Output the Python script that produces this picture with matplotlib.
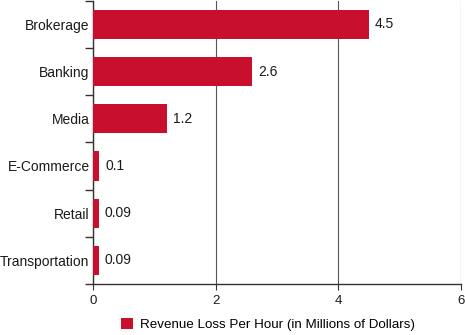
import matplotlib.pyplot as plt
import numpy as np
from matplotlib.patches import Patch

plt.rcParams['font.family'] = ['Liberation Sans', 'DejaVu Sans']

categories = ["Brokerage", "Banking", "Media", "E-Commerce", "Retail", "Transportation"]
values = [4.5, 2.6, 1.2, 0.1, 0.09, 0.09]
labels = ["4.5", "2.6", "1.2", "0.1", "0.09", "0.09"]
series_name = "Revenue Loss Per Hour (in Millions of Dollars)"
bar_color = "#C8102E"

fig = plt.figure(figsize=(4.65, 3.35), dpi=100)
ax = fig.add_axes([0.2, 0.152, 0.791, 0.846])

y = np.arange(len(categories))
ax.barh(y, values, height=0.62, color=bar_color, zorder=3)
for yi, v, lab in zip(y, values, labels):
    ax.text(v + 0.1, yi, lab, va="center", ha="left", fontsize=10, color="#1a1a1a", zorder=4)

ax.set_ylim(len(categories) - 0.5, -0.5)
ax.set_xlim(0, 6)
ax.set_xticks([0, 2, 4, 6])
ax.tick_params(axis="x", length=4, width=0.8, colors="#333333", labelsize=9.5, pad=4)
for t in ax.get_xticklabels():
    t.set_color("#1a1a1a")

# category labels centred on bars, tick marks on the boundaries
ax.set_yticks(y)
ax.set_yticklabels(categories, fontsize=10, color="#1a1a1a")
ax.tick_params(axis="y", which="major", length=0, pad=2.5)
ax.set_yticks(np.arange(-0.5, len(categories)), minor=True)
ax.tick_params(axis="y", which="minor", length=6, width=1.0, color="#333333")

ax.grid(axis="x", color="#555555", linewidth=0.8, zorder=0)
for s in ["top", "right"]:
    ax.spines[s].set_visible(False)
ax.spines["left"].set_color("#333333")
ax.spines["bottom"].set_color("#333333")
ax.spines["left"].set_linewidth(1.0)
ax.spines["bottom"].set_linewidth(1.0)

handle = Patch(facecolor=bar_color, edgecolor="none")
fig.legend([handle], [series_name], loc="center", bbox_to_anchor=(0.577, 0.032),
           frameon=False, fontsize=9.6, handlelength=0.9, handleheight=0.9,
           handletextpad=0.5, borderaxespad=0)

fig.savefig("out.png", dpi=100)
